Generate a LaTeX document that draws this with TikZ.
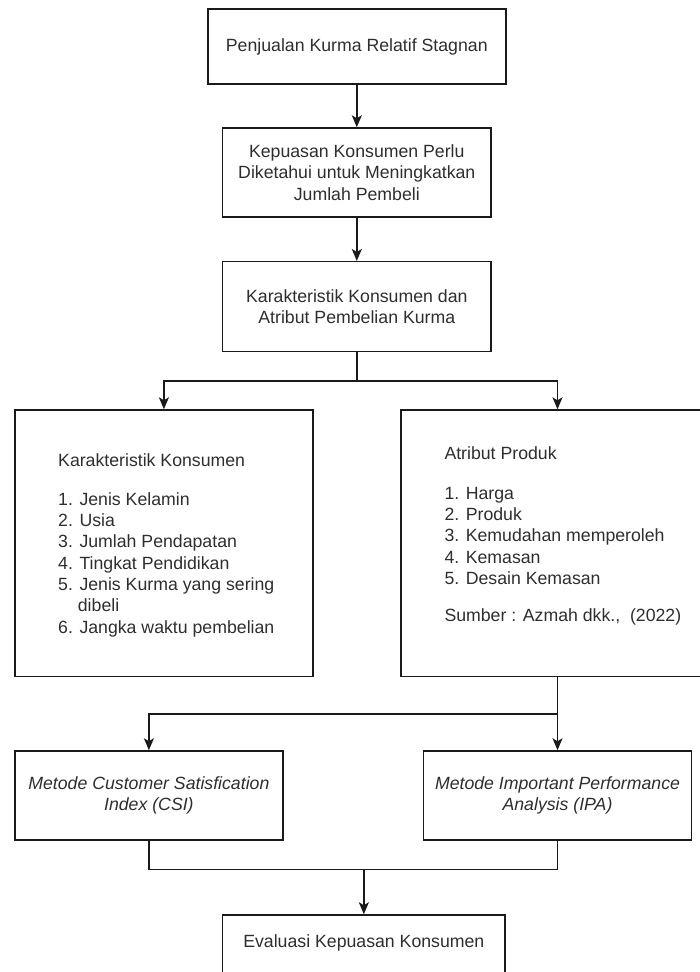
\documentclass[tikz,border=0pt]{standalone}
\usepackage{fontspec}
\setmainfont{Liberation Sans}
\usetikzlibrary{arrows.meta}
\definecolor{txt}{HTML}{2E2E2E}
\definecolor{ln}{HTML}{1A1A1A}
\begin{document}
\begin{tikzpicture}[x=1pt,y=-1pt,
  box/.style={draw=ln, line width=1.5pt, rectangle, inner sep=0pt, align=center, text=txt,
              font=\fontsize{17.7}{21.6}\selectfont},
  lbl/.style={text=txt, font=\fontsize{17.7}{21.3}\selectfont, inner sep=0pt, anchor=base west},
  ctext/.style={text=txt, font=\fontsize{17.7}{21.6}\selectfont, inner sep=0pt},
  con/.style={draw=ln, line width=1.5pt},
  arr/.style={con, -{Stealth[length=12pt,width=10pt,inset=3pt]}}
]
\useasboundingbox (0,0) rectangle (700,972);
\clip (0,0) rectangle (700,972);

% boxes
\node[box, minimum width=298pt, minimum height=75pt] (b1) at (356.8,46.5) {Penjualan Kurma Relatif Stagnan};
\node[box, minimum width=268.3pt, minimum height=89pt] (b2) at (356.8,172.5) {Kepuasan Konsumen Perlu\\Diketahui untuk Meningkatkan\\Jumlah Pembeli};
\node[box, minimum width=268.3pt, minimum height=89.8pt] (b3) at (356.8,306.6) {Karakteristik Konsumen dan\\Atribut Pembelian Kurma};
\node[box, minimum width=297.7pt, minimum height=266.5pt] (L) at (163.9,543.3) {};
\node[box, minimum width=313pt, minimum height=266.5pt] (R) at (557.5,543.3) {};
\node[box, font=\fontsize{17.7}{21.6}\selectfont\itshape, minimum width=267.7pt, minimum height=89pt] (csi) at (148.9,795.5) {Metode Customer Satisfication\\Index (CSI)};
\node[box, font=\fontsize{17.7}{21.6}\selectfont\itshape, minimum width=267.7pt, minimum height=89pt] (ipa) at (557.5,795.5) {Metode Important Performance\\Analysis (IPA)};
\node[box, minimum width=282.3pt, minimum height=65pt] (ev) at (363.85,947.5) {};
\node[ctext] (evt) at (363.85,943) {Evaluasi Kepuasan Konsumen};

% left list
\node[lbl] (lt) at (58,466.5) {Karakteristik Konsumen};
\node[lbl] (l1) at (58,505) {1. Jenis Kelamin};
\node[lbl] (l2) at (58,526.3) {2. Usia};
\node[lbl] (l3) at (58,547.6) {3. Jumlah Pendapatan};
\node[lbl] (l4) at (58,569) {4. Tingkat Pendidikan};
\node[lbl] (l5) at (58,590.3) {5. Jenis Kurma yang sering};
\node[lbl] (l5b) at (77.7,611.6) {dibeli};
\node[lbl] (l6) at (58,633) {6. Jangka waktu pembelian};

% right list
\node[lbl] (rt) at (444.3,459.3) {Atribut Produk};
\node[lbl] (r1) at (444.3,499.3) {1. Harga};
\node[lbl] (r2) at (444.3,520.6) {2. Produk};
\node[lbl] (r3) at (444.3,541.9) {3. Kemudahan memperoleh};
\node[lbl] (r4) at (444.3,563.2) {4. Kemasan};
\node[lbl] (r5) at (444.3,584.5) {5. Desain Kemasan};
\node[lbl] (rs) at (444.3,621.7) {Sumber : Azmah dkk.,\ \ (2022)};

% junctions
\coordinate (j1) at (356.8,381);
\coordinate (jl) at (163.9,381);
\coordinate (jr) at (557.5,381);
\coordinate (j2) at (557.5,714);
\coordinate (j2l) at (148.9,714);
\coordinate (m1) at (148.9,869.3);
\coordinate (m2) at (557.5,869.3);
\coordinate (m3) at (363.85,869.3);

% connectors
\draw[arr] (b1.south) -- (b2.north);
\draw[arr] (b2.south) -- (b3.north);
\draw[con] (b3.south) -- (j1);
\draw[arr] (j1) -- (jl) -- (L.north);
\draw[arr] (j1) -- (jr) -- (R.north);
\draw[con] (R.south) -- (j2);
\draw[arr] (j2) -- (ipa.north);
\draw[arr] (j2) -- (j2l) -- (csi.north);
\draw[con] (csi.south) -- (m1) -- (m2) -- (ipa.south);
\draw[arr] (m3) -- (ev.north);
\end{tikzpicture}
\end{document}
